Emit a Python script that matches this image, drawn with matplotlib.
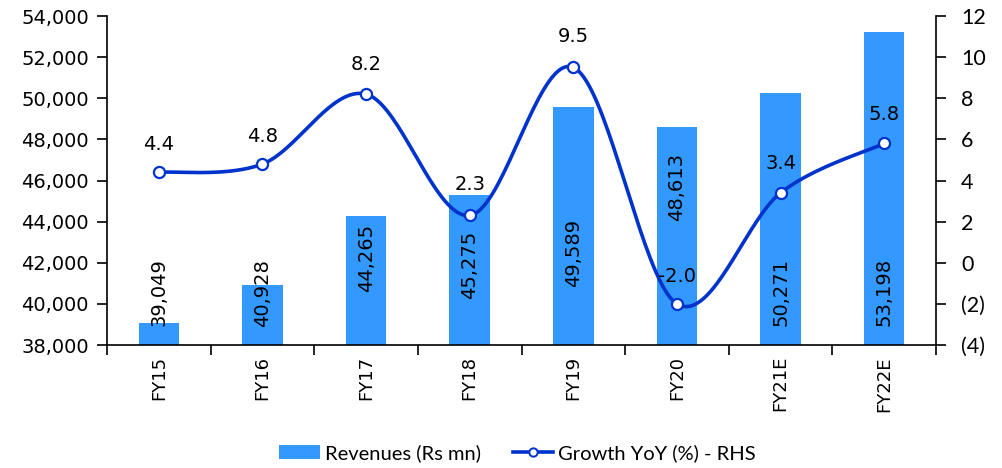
import numpy as np
import matplotlib
matplotlib.use("Agg")
import matplotlib.pyplot as plt
from matplotlib.ticker import FuncFormatter
from matplotlib.lines import Line2D
from matplotlib.patches import Patch

years = ["FY15", "FY16", "FY17", "FY18", "FY19", "FY20", "FY21E", "FY22E"]
revenues = [39049, 40928, 44265, 45275, 49589, 48613, 50271, 53198]
growth = [4.4, 4.8, 8.2, 2.3, 9.5, -2.0, 3.4, 5.8]

# vertical placement of the rotated revenue labels (left-axis units)
rev_label_y = [40580, 40530, 42230, 41890, 42480, 45680, 40580, 40580]
# offsets (points) of the growth label centres from their markers
growth_offsets = [(0, 20), (0, 20), (0, 21), (0, 22), (0, 22), (0, 20), (0, 21), (0, 21)]

BAR = "#3399FF"
LINE = "#0033CC"

fig = plt.figure(figsize=(10.03, 4.68), dpi=100)
ax = fig.add_axes([0.1067, 0.2628, 0.8265, 0.7030])
ax2 = ax.twinx()

x = np.arange(len(years))
ax.bar(x, revenues, width=0.39, color=BAR, zorder=2)
ax.set_xlim(-0.5, len(years) - 0.5)
ax.set_ylim(38000, 54000)
ax.set_yticks(np.arange(38000, 54001, 2000))
ax.yaxis.set_major_formatter(FuncFormatter(lambda v, p: f"{v:,.0f}"))

for xi, v, ly in zip(x, revenues, rev_label_y):
    ax.text(xi, ly, f"{v:,}", rotation=90, ha="center", va="center",
            fontsize=14, color="black", zorder=3, family="DejaVu Sans")


def smooth(xs, ys, n=40):
    # cubic Bezier segments with Catmull-Rom style control points
    pts = np.column_stack([xs, ys]).astype(float)
    out = []
    for i in range(len(pts) - 1):
        p0 = pts[i - 1] if i > 0 else pts[i]
        p1 = pts[i]
        p2 = pts[i + 1]
        p3 = pts[i + 2] if i + 2 < len(pts) else pts[i + 1]
        c1 = p1 + (p2 - p0) / 6.0
        c2 = p2 - (p3 - p1) / 6.0
        t = np.linspace(0, 1, n)[:, None]
        seg = ((1 - t) ** 3) * p1 + 3 * ((1 - t) ** 2) * t * c1 + 3 * (1 - t) * t ** 2 * c2 + t ** 3 * p2
        out.append(seg if i == 0 else seg[1:])
    s = np.vstack(out)
    return s[:, 0], s[:, 1]


sx, sy = smooth(x, growth)
ax2.plot(sx, sy, color=LINE, lw=2.6, zorder=4, solid_capstyle="round")
ax2.plot(x, growth, linestyle="none", marker="o", markersize=8,
         markerfacecolor="white", markeredgecolor=LINE, markeredgewidth=1.6, zorder=5)
ax2.set_ylim(-4, 12)
ax2.set_yticks(np.arange(-4, 12.1, 2))
ax2.yaxis.set_major_formatter(FuncFormatter(lambda v, p: f"({abs(v):.0f})" if v < 0 else f"{v:.0f}"))

for xi, g, off in zip(x, growth, growth_offsets):
    ax2.annotate(f"{g:.1f}", (xi, g), xytext=off, textcoords="offset points",
                 ha="center", va="center",
                 fontsize=14, color="black", zorder=6, family="DejaVu Sans")

# x axis: category labels centred, tick marks between categories
ax.set_xticks(x)
ax.set_xticklabels(years, rotation=90, fontsize=13, family="DejaVu Sans")
ax.tick_params(axis="x", length=0, pad=8)
ax.set_xticks(np.arange(-0.5, len(years), 1), minor=True)
ax.tick_params(axis="x", which="minor", length=7, width=1.2, direction="out", color="black")

ax.tick_params(axis="y", length=7, width=1.2, direction="out", labelsize=14, pad=6)
for lab in ax.get_yticklabels():
    lab.set_family("DejaVu Sans")
ax2.tick_params(axis="y", length=7, width=1.2, direction="out", labelsize=15.5, pad=11)
for lab in ax2.get_yticklabels():
    lab.set_family("Lato")

for a in (ax, ax2):
    a.spines["top"].set_visible(False)
    for s in ("left", "right", "bottom"):
        a.spines[s].set_linewidth(1.2)
ax2.spines["left"].set_visible(False)
ax2.spines["bottom"].set_visible(False)
ax.spines["right"].set_visible(False)

handles = [Patch(facecolor=BAR, edgecolor="none"),
           Line2D([0], [0], color=LINE, lw=2.6, marker="o", markersize=6,
                  markerfacecolor="white", markeredgecolor=LINE, markeredgewidth=1.4)]
fig.legend(handles, ["Revenues (Rs mn)", "Growth YoY (%) - RHS"],
           loc="center", bbox_to_anchor=(0.516, 0.032), ncol=2, frameon=False,
           prop={"family": "Lato", "size": 14.5}, handlelength=2.0, handleheight=0.75,
           handletextpad=0.25, columnspacing=1.6)

fig.savefig("out.png", dpi=100)
